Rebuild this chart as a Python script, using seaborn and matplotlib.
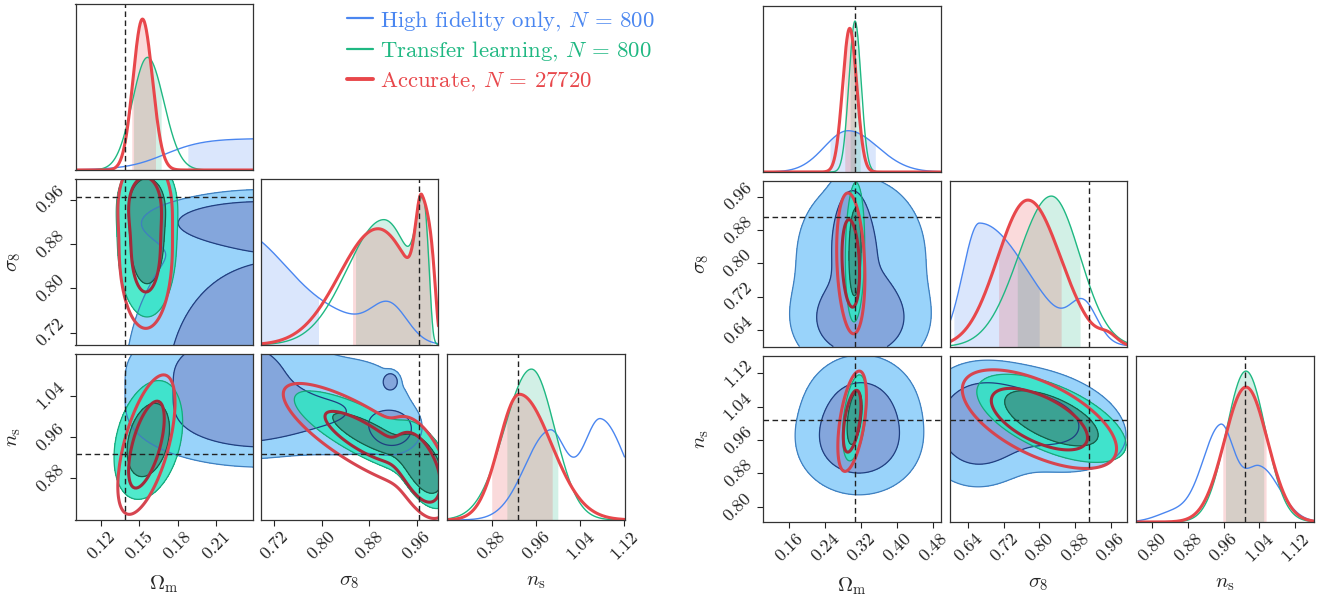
import numpy as np
import matplotlib
matplotlib.use("Agg")
import matplotlib.pyplot as plt
import matplotlib.transforms as mtransforms
import seaborn as sns
from matplotlib.lines import Line2D

# ---------------------------------------------------------------- data
PARAM_LABELS = [r"$\Omega_\mathrm{m}$", r"$\sigma_8$", r"$n_\mathrm{s}$"]
CHAIN_LABELS = [r"High fidelity only, $N$ = 800",
                r"Transfer learning, $N$ = 800",
                r"Accurate, $N$ = 27720"]
PRIOR_LO = [0.10, 0.60, 0.80]
PRIOR_HI = [0.50, 1.00, 1.20]

# axis extents, truth values, ticks (left corner / right corner)
L_LIMS = [(0.0998, 0.2392), (0.698, 0.997), (0.799, 1.1205)]
R_LIMS = [(0.1013, 0.497), (0.599, 0.998), (0.764, 1.161)]
L_TRUTH = [0.139, 0.964, 0.927]
R_TRUTH = [0.3075, 0.911, 1.007]
L_XTICKS = [[0.12, 0.15, 0.18, 0.21], [0.72, 0.80, 0.88, 0.96], [0.88, 0.96, 1.04, 1.12]]
L_YTICKS = [[], [0.72, 0.80, 0.88, 0.96], [0.88, 0.96, 1.04]]
R_XTICKS = [[0.16, 0.24, 0.32, 0.40, 0.48], [0.64, 0.72, 0.80, 0.88, 0.96],
            [0.80, 0.88, 0.96, 1.04, 1.12]]
R_YTICKS = [[], [0.64, 0.72, 0.80, 0.88, 0.96], [0.80, 0.88, 0.96, 1.04, 1.12]]

# 1D marginals: ("g", height, mode, sigma_left, sigma_right),
# ("s", plateau, midpoint, width) rising edge, ("c", midpoint, width) upper cut-off
L1D_OM = [[("s", 31.5, 0.170, 0.0153)],
          [("g", 112.7, 0.1564, 0.012, 0.0128)],
          [("g", 151.0, 0.1524, 0.0074, 0.0078)]]
L1D_S8 = [[("g", 115.0, 0.650, 0.10, 0.10), ("g", 12.0, 0.850, 0.05, 0.05), ("g", 34.0, 0.915, 0.03, 0.03)],
          [("g", 124.0, 0.905, 0.062, 0.05), ("g", 95.0, 0.972, 0.012, 0.008), ("c", 0.986, 0.0025)],
          [("g", 115.0, 0.895, 0.065, 0.06), ("g", 95.0, 0.969, 0.010, 0.025), ("c", 0.993, 0.0035)]]
L1D_NS = [[("g", 88.0, 0.985, 0.045, 0.030), ("g", 100.0, 1.077, 0.032, 0.045)],
          [("g", 150.0, 0.952, 0.049, 0.042)],
          [("g", 125.0, 0.930, 0.037, 0.058)]]
R1D_OM = [[("g", 41.3, 0.291, 0.053, 0.066)],
          [("g", 151.0, 0.3064, 0.0135, 0.0135)],
          [("g", 143.7, 0.2946, 0.0157, 0.0157)]]
R1D_S8 = [[("g", 124.0, 0.665, 0.037, 0.11), ("g", 35.0, 0.900, 0.03, 0.03)],
          [("g", 151.0, 0.827, 0.074, 0.064)],
          [("g", 147.0, 0.774, 0.068, 0.074), ("g", 8.0, 0.955, 0.02, 0.02)]]
R1D_NS = [[("g", 95.0, 0.953, 0.040, 0.030), ("g", 55.0, 1.040, 0.035, 0.045), ("g", 10.0, 0.850, 0.04, 0.04)],
          [("g", 151.0, 1.010, 0.044, 0.044)],
          [("g", 135.0, 1.010, 0.048, 0.048)]]

# shaded 1D credible intervals (lo, hi) per chain
L_SHADE = [[(0.188, 0.25), (0.1453, 0.1672), (0.144, 0.1628)],
           [(0.69, 0.795), (0.857, 0.987), (0.852, 0.984)],
           [None, (0.907, 1.000), (0.8796, 0.990)]]
R_SHADE = [[(0.250, 0.352), (0.295, 0.318), (0.283, 0.307)],
           [(0.607, 0.800), (0.750, 0.892), (0.708, 0.849)],
           [None, (0.964, 1.050), (0.958, 1.055)]]

# 2D posteriors: (weight, x0, y0, sx, sy, rho)
L2D_OM_S8 = [[(0.30, 0.24, 0.62, 0.055, 0.17, 0.0), (0.30, 0.38, 0.62, 0.08, 0.17, 0.0),
              (0.03, 0.24, 0.92, 0.045, 0.025, 0.0), (0.03, 0.38, 0.92, 0.08, 0.025, 0.0)],
             [(0.30, 0.156, 0.955, 0.0105, 0.035, 0.0), (0.70, 0.156, 0.880, 0.0105, 0.060, 0.0)],
             [(0.30, 0.154, 0.955, 0.0090, 0.035, 0.0), (0.70, 0.155, 0.870, 0.0095, 0.065, 0.0)]]
L2D_OM_NS = [[(0.25, 0.24, 1.00, 0.05, 0.05, 0.0), (0.25, 0.24, 1.10, 0.05, 0.05, 0.0),
              (0.25, 0.38, 1.00, 0.08, 0.05, 0.0), (0.25, 0.38, 1.10, 0.08, 0.05, 0.0)],
             [(1.0, 0.157, 0.954, 0.011, 0.047, 0.3)],
             [(1.0, 0.1555, 0.945, 0.0093, 0.056, 0.6)]]
L2D_S8_NS = [[(0.35, 0.64, 1.00, 0.11, 0.04, 0.0), (0.25, 0.64, 1.09, 0.08, 0.05, 0.0),
              (0.08, 0.86, 1.02, 0.06, 0.06, 0.0), (0.04, 0.92, 0.975, 0.02, 0.02, 0.0),
              (0.008, 0.916, 1.067, 0.006, 0.008, 0.0)],
             [(0.45, 0.97, 0.905, 0.020, 0.035, -0.5), (0.55, 0.88, 0.965, 0.060, 0.040, -0.8)],
             [(0.45, 0.965, 0.90, 0.020, 0.040, -0.5), (0.55, 0.87, 0.96, 0.065, 0.050, -0.8)]]
R2D_OM_S8 = [[(0.35, 0.318, 0.66, 0.07, 0.06, 0.0), (0.35, 0.32, 0.82, 0.085, 0.11, 0.0),
              (0.15, 0.30, 0.86, 0.022, 0.07, 0.0)],
             [(1.0, 0.3064, 0.827, 0.009, 0.070, 0.1)],
             [(1.0, 0.297, 0.800, 0.013, 0.070, -0.2)]]
R2D_OM_NS = [[(0.6, 0.315, 0.955, 0.06, 0.055, 0.0), (0.4, 0.32, 1.04, 0.06, 0.06, 0.0)],
             [(1.0, 0.3055, 1.013, 0.011, 0.042, 0.4)],
             [(1.0, 0.300, 1.005, 0.013, 0.049, 0.5)]]
R2D_S8_NS = [[(0.5, 0.66, 0.99, 0.06, 0.065, 0.0), (0.5, 0.80, 1.01, 0.10, 0.065, -0.3)],
             [(1.0, 0.827, 1.012, 0.070, 0.044, -0.6)],
             [(1.0, 0.800, 1.010, 0.072, 0.049, -0.6)]]

# ---------------------------------------------------------------- style
LINE_COLORS = ["#4a86f0", "#1fb882", "#e8474b"]
LINE_WIDTHS = [1.0, 1.0, 2.2]
FILL_COLORS = [("#99d3fa", "#84a6dc"), ("#31e7c4", "#3b897e"), (None, None)]
FILL_ALPHA = [(1.0, 1.0), (0.85, 0.7), (0, 0)]
EDGE_COLORS = [("#3f7fbf", "#1f3f80"), ("#1aa77a", "#145e48"), ("#d64550", "#a32a3a")]
EDGE_WIDTHS = [0.9, 0.9, 2.2]

sns.set_theme(style="ticks")
plt.rcParams.update({
    "font.family": "serif",
    "font.serif": ["cmr10"],
    "mathtext.fontset": "cm",
    "axes.unicode_minus": False,
    "axes.edgecolor": "#333333",
    "axes.linewidth": 0.9,
    "xtick.color": "#222222",
    "ytick.color": "#222222",
})

W, H = 1321, 596


def curve1d(x, comps):
    y = np.zeros_like(x)
    cut = np.ones_like(x)
    for c in comps:
        if c[0] == "g":
            _, a, m, sl, sr = c
            s = np.where(x < m, sl, sr)
            y = y + a * np.exp(-0.5 * ((x - m) / s) ** 2)
        elif c[0] == "s":
            _, a, m, w = c
            y = y + a / (1 + np.exp(-(x - m) / w))
        elif c[0] == "c":
            _, m, w = c
            cut = cut / (1 + np.exp((x - m) / w))
    return y * cut


def dens2d(X, Y, comps):
    Z = np.zeros_like(X)
    for w, mx, my, sx, sy, r in comps:
        dx = (X - mx) / sx
        dy = (Y - my) / sy
        q = (dx ** 2 - 2 * r * dx * dy + dy ** 2) / (1 - r ** 2)
        Z = Z + w / (2 * np.pi * sx * sy * np.sqrt(1 - r ** 2)) * np.exp(-0.5 * q)
    return Z


def hpd(Z, probs=(0.95, 0.68)):
    z = np.sort(Z.ravel())[::-1]
    c = np.cumsum(z)
    c = c / c[-1]
    return [z[min(np.searchsorted(c, p), len(z) - 1)] for p in probs]


def rect(x0, ytop, w=177.5, h=166.0):
    return [x0 / W, 1 - (ytop + h) / H, w / W, h / H]


fig = plt.figure(figsize=(W / 100, H / 100), dpi=100)
ylab_shift = mtransforms.ScaledTranslation(0, -10 / 100, fig.dpi_scale_trans)


def corner(x0s, ytops, lims, truth, xticks, yticks, m1d, shades, m2d):
    n = 3
    for i in range(n):
        for j in range(i + 1):
            ax = fig.add_axes(rect(x0s[j], ytops[i]))
            ax.set_facecolor("white")
            if i == j:
                xg = np.linspace(lims[i][0], lims[i][1], 600)
                curves = [curve1d(xg, comp) for comp in m1d[i]]
                top = max(c.max() for c in curves)
                for k in range(3):
                    sh = shades[i][k]
                    if sh is not None:
                        msk = (xg >= sh[0]) & (xg <= sh[1])
                        ax.fill_between(xg[msk], 0, curves[k][msk], color=LINE_COLORS[k],
                                        alpha=0.2, lw=0)
                    sns.lineplot(x=xg, y=curves[k], ax=ax, color=LINE_COLORS[k],
                                 lw=LINE_WIDTHS[k], sort=False, estimator=None)
                ax.set_ylim(0, 1.1 * top)
                ax.axvline(truth[i], color="#222222", ls="--", lw=1.0, dashes=(4, 2.5))
            else:
                comps = m2d[(j, i)]
                xs = np.linspace(PRIOR_LO[j], PRIOR_HI[j], 320)
                ys = np.linspace(PRIOR_LO[i], PRIOR_HI[i], 320)
                X, Y = np.meshgrid(xs, ys)
                for k in range(3):
                    Z = dens2d(X, Y, comps[k])
                    t95, t68 = hpd(Z)
                    fo, fi = FILL_COLORS[k]
                    ao, ai = FILL_ALPHA[k]
                    eo, ei = EDGE_COLORS[k]
                    if fo is not None:
                        ax.contourf(X, Y, Z, levels=[t95, Z.max() * 2], colors=[fo], alpha=ao)
                        ax.contourf(X, Y, Z, levels=[t68, Z.max() * 2], colors=[fi], alpha=ai)
                    ax.contour(X, Y, Z, levels=[t95], colors=[eo], linewidths=EDGE_WIDTHS[k])
                    ax.contour(X, Y, Z, levels=[t68], colors=[ei], linewidths=EDGE_WIDTHS[k])
                ax.set_ylim(*lims[i])
                ax.axvline(truth[j], color="#222222", ls="--", lw=1.0, dashes=(4, 2.5))
                ax.axhline(truth[i], color="#222222", ls="--", lw=1.0, dashes=(4, 2.5))
            ax.set_xlim(*lims[j])
            ax.set_xlabel("")
            ax.set_ylabel("")
            if i == n - 1:
                ax.set_xticks(xticks[j])
                ax.set_xticklabels([f"{t:.2f}" for t in xticks[j]], rotation=45, fontsize=13)
                ax.set_xlabel(PARAM_LABELS[j], fontsize=15)
                ax.xaxis.set_label_coords(0.5, -0.32)
            else:
                ax.set_xticks([])
            if j == 0 and i > 0:
                ax.set_yticks(yticks[i])
                ax.set_yticklabels([f"{t:.2f}" for t in yticks[i]], rotation=45, fontsize=13,
                                   va="center")
                for lab in ax.get_yticklabels():
                    lab.set_transform(lab.get_transform() + ylab_shift)
                ax.set_ylabel(PARAM_LABELS[i], fontsize=15)
                ax.yaxis.set_label_coords(-0.293, 0.5)
            else:
                ax.set_yticks([])
            ax.tick_params(direction="out", length=4, width=0.8, pad=2)
            for s in ax.spines.values():
                s.set_visible(True)
                s.set_color("#333333")
                s.set_linewidth(0.9)


corner([75.5, 261.0, 447.0], [4.0, 179.0, 354.0], L_LIMS, L_TRUTH, L_XTICKS, L_YTICKS,
       [L1D_OM, L1D_S8, L1D_NS], L_SHADE,
       {(0, 1): L2D_OM_S8, (0, 2): L2D_OM_NS, (1, 2): L2D_S8_NS})
corner([763.0, 950.0, 1136.0], [6.0, 181.0, 356.0], R_LIMS, R_TRUTH, R_XTICKS, R_YTICKS,
       [R1D_OM, R1D_S8, R1D_NS], R_SHADE,
       {(0, 1): R2D_OM_S8, (0, 2): R2D_OM_NS, (1, 2): R2D_S8_NS})

handles = [Line2D([0], [0], color=LINE_COLORS[k], lw=LINE_WIDTHS[k] + 0.6) for k in range(3)]
fig.legend(handles, CHAIN_LABELS, loc="upper left", bbox_to_anchor=(347 / W, 1 - 9 / H),
           frameon=False, fontsize=16.4, labelcolor=LINE_COLORS, handlelength=1.15,
           handletextpad=0.3, labelspacing=0.3, borderpad=0, borderaxespad=0)

fig.savefig("out.png", dpi=100, facecolor="white")
